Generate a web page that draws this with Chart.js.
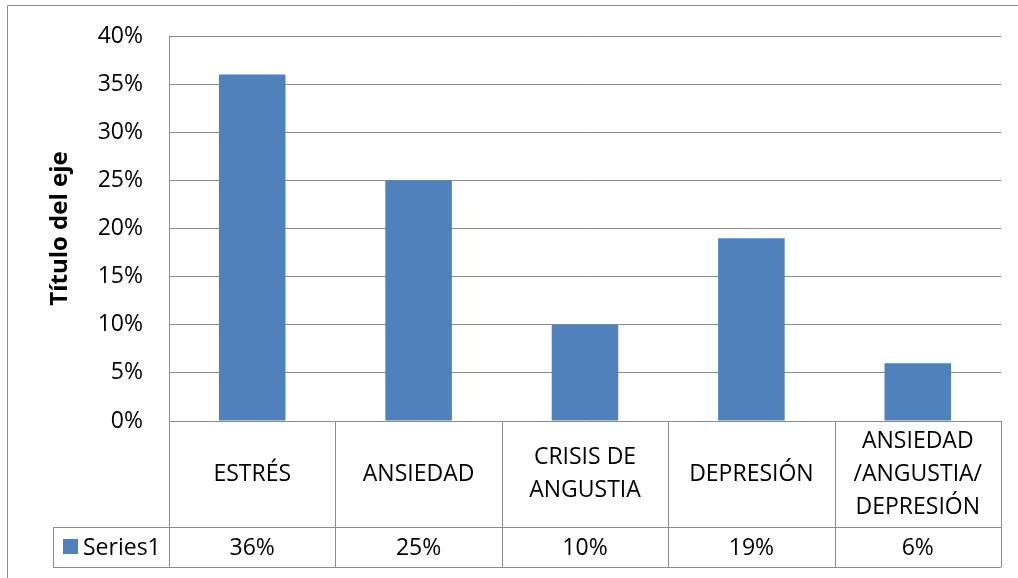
<!DOCTYPE html>
<html>
<head>
<meta charset="utf-8">
<script src="https://cdn.jsdelivr.net/npm/chart.js@4"></script>
<style>
  html, body { margin: 0; padding: 0; background: #fff; }
  canvas { display: block; }
</style>
</head>
<body>
<canvas id="myChart" width="1018" height="578"></canvas>
<script>
// data
const categories = ["ESTRÉS", "ANSIEDAD", "CRISIS DE ANGUSTIA", "DEPRESIÓN", "ANSIEDAD /ANGUSTIA/ DEPRESIÓN"];
const categoryLines = [["ESTRÉS"], ["ANSIEDAD"], ["CRISIS DE", "ANGUSTIA"], ["DEPRESIÓN"], ["ANSIEDAD", "/ANGUSTIA/", "DEPRESIÓN"]];
const series1 = [36, 25, 10, 19, 6];
const seriesName = "Series1";
const axisTitle = "Título del eje";

const FONT = "'Open Sans', 'Noto Sans', sans-serif";
const GRID = "#8c8c8c";
const BLUE = "#4f81bd";

// draws the Excel-style data table under the plot + outer frame
const dataTable = {
  id: "dataTable",
  afterDraw(chart) {
    const ctx = chart.ctx;
    const x = chart.scales.x;
    const area = chart.chartArea;
    const headerBottom = 527;
    const tableBottom = 567;
    const legendLeft = 53;
    const step = x.getPixelForValue(1) - x.getPixelForValue(0);

    ctx.save();
    ctx.strokeStyle = GRID;
    ctx.lineWidth = 1;

    // outer frame (left and top edges visible)
    ctx.beginPath();
    ctx.moveTo(7.5, 5.5);
    ctx.lineTo(7.5, 578);
    ctx.moveTo(7.5, 5.5);
    ctx.lineTo(1018, 5.5);
    ctx.stroke();

    ctx.beginPath();
    // vertical cell borders
    for (let i = 0; i <= categories.length; i++) {
      const bx = Math.round(x.getPixelForValue(i) - step / 2) + 0.5;
      ctx.moveTo(bx, area.bottom);
      ctx.lineTo(bx, tableBottom);
    }
    // horizontal rows
    ctx.moveTo(legendLeft, headerBottom + 0.5);
    ctx.lineTo(area.right, headerBottom + 0.5);
    ctx.moveTo(legendLeft, tableBottom + 0.5);
    ctx.lineTo(area.right, tableBottom + 0.5);
    ctx.moveTo(legendLeft + 0.5, headerBottom);
    ctx.lineTo(legendLeft + 0.5, tableBottom);
    ctx.stroke();

    ctx.fillStyle = "#000";
    ctx.font = "23px " + FONT;
    ctx.textAlign = "center";
    ctx.textBaseline = "middle";
    const lineH = 33;
    const headerMid = (area.bottom + headerBottom) / 2;
    categoryLines.forEach((lines, i) => {
      const cx = x.getPixelForValue(i);
      const y0 = headerMid - (lines.length - 1) * lineH / 2;
      lines.forEach((t, j) => ctx.fillText(t, cx, y0 + j * lineH));
      ctx.fillText(series1[i] + "%", cx, (headerBottom + tableBottom) / 2 + 1);
    });

    // legend key
    ctx.fillStyle = BLUE;
    ctx.fillRect(63, 539, 15, 15);
    ctx.fillStyle = "#000";
    ctx.textAlign = "left";
    ctx.fillText(seriesName, 83, (headerBottom + tableBottom) / 2 + 1);
    ctx.restore();
  }
};

new Chart(document.getElementById("myChart"), {
  type: "bar",
  data: {
    labels: categories,
    datasets: [{
      label: seriesName,
      data: series1,
      backgroundColor: BLUE,
      borderWidth: 0,
      barPercentage: 0.4,
      categoryPercentage: 1
    }]
  },
  options: {
    responsive: false,
    animation: false,
    devicePixelRatio: 1,
    layout: { padding: { top: 36, right: 17, bottom: 157, left: 0 } },
    plugins: { legend: { display: false }, tooltip: { enabled: false } },
    scales: {
      x: { display: false },
      y: {
        min: 0,
        max: 40,
        afterFit: (s) => { s.width = 169; },
        ticks: {
          stepSize: 5,
          padding: 0,
          color: "#000",
          font: { family: FONT, size: 23 },
          callback: (v) => v + "%"
        },
        grid: { color: GRID, drawTicks: true, tickLength: 26, tickColor: "rgba(0,0,0,0)" },
        border: { display: true, color: GRID },
        title: {
          display: true,
          text: axisTitle,
          color: "#000",
          font: { family: FONT, size: 24, weight: "bold" },
          padding: { top: 46, bottom: 0 }
        }
      }
    }
  },
  plugins: [dataTable]
});
</script>
</body>
</html>
